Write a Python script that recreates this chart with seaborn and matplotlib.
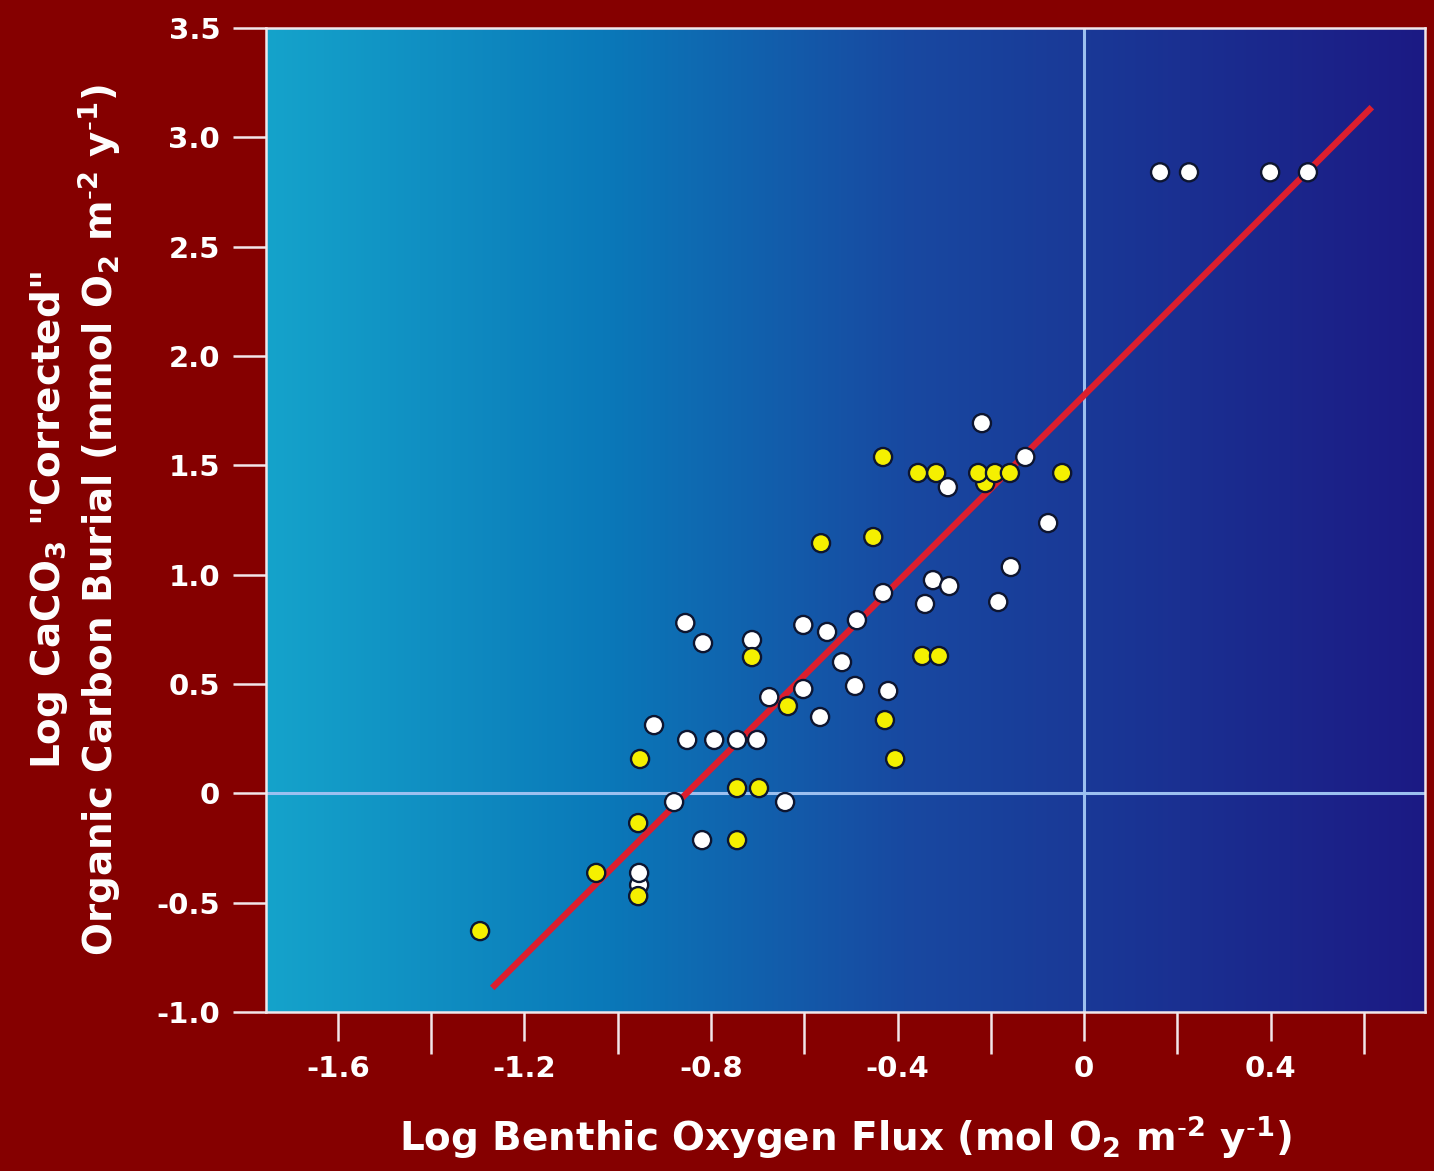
import numpy as np
import pandas as pd
import matplotlib
matplotlib.use("Agg")
import matplotlib.pyplot as plt
import seaborn as sns
from matplotlib.colors import LinearSegmentedColormap

# ---- data ----
white_x = [-0.954, 0.163, 0.225, 0.399, 0.480, -0.219, -0.126, -0.292, -0.077,
           -0.157, -0.324, -0.289, -0.341, -0.184, -0.431, -0.487, -0.602,
           -0.551, -0.855, -0.817, -0.712, -0.519, -0.675, -0.602, -0.491,
           -0.420, -0.566, -0.922, -0.851, -0.793, -0.744, -0.701, -0.879,
           -0.641, -0.819, -0.954]
white_y = [-0.419, 2.84, 2.84, 2.84, 2.84, 1.693, 1.538, 1.400, 1.236,
           1.035, 0.975, 0.948, 0.866, 0.875, 0.916, 0.792, 0.770,
           0.738, 0.779, 0.687, 0.701, 0.600, 0.440, 0.477, 0.491,
           0.468, 0.349, 0.312, 0.244, 0.244, 0.244, 0.244, -0.040,
           -0.040, -0.214, -0.364]

yellow_x = [-0.212, -0.431, -0.356, -0.317, -0.227, -0.191, -0.159, -0.047,
            -0.452, -0.564, -0.712, -0.347, -0.311, -0.635, -0.427, -0.405,
            -0.952, -0.744, -0.697, -0.956, -0.744, -1.046, -0.956, -1.295]
yellow_y = [1.419, 1.538, 1.465, 1.465, 1.465, 1.465, 1.465, 1.465,
            1.172, 1.144, 0.623, 0.628, 0.628, 0.399, 0.335, 0.157,
            0.157, 0.024, 0.024, -0.136, -0.214, -0.364, -0.470, -0.630]

fit_x = [-1.269, 0.617]
fit_y = [-0.890, 3.138]

x_major = [-1.6, -1.2, -0.8, -0.4, 0, 0.4]
x_major_labels = ["-1.6", "-1.2", "-0.8", "-0.4", "0", "0.4"]
x_minor = [-1.4, -1.0, -0.6, -0.2, 0.2, 0.6]
y_ticks = [-1.0, -0.5, 0, 0.5, 1.0, 1.5, 2.0, 2.5, 3.0, 3.5]
y_tick_labels = ["-1.0", "-0.5", "0", "0.5", "1.0", "1.5", "2.0", "2.5", "3.0", "3.5"]

df = pd.DataFrame({
    "x": white_x + yellow_x,
    "y": white_y + yellow_y,
    "group": ["white"] * len(white_x) + ["yellow"] * len(yellow_x),
})
line_df = pd.DataFrame({"x": fit_x, "y": fit_y})

# ---- style ----
sns.set_style("white")
plt.rcParams["font.family"] = ["DejaVu Sans"]
plt.rcParams["mathtext.default"] = "regular"

bg = "#850000"
fig = plt.figure(figsize=(14.34, 11.71), dpi=100, facecolor=bg)
ax = fig.add_axes([266 / 1434, 1 - 1012 / 1171, (1425 - 266) / 1434, (1012 - 28) / 1171])

xlim = (-1.754, 0.731)
ylim = (-1.0, 3.5)

# horizontal gradient background
cmap = LinearSegmentedColormap.from_list(
    "bg", [(0.0, "#15a3cb"), (0.29, "#0a79b9"), (0.55, "#1849a1"), (1.0, "#1c1a84")])
grad = np.linspace(0, 1, 512).reshape(1, -1)
ax.imshow(grad, cmap=cmap, aspect="auto", extent=[xlim[0], xlim[1], ylim[0], ylim[1]],
          zorder=0, interpolation="bicubic")

# zero lines
ax.axvline(0, color="#9cc0f0", lw=2.2, zorder=1)
ax.axhline(0, color="#9cc0f0", lw=2.2, zorder=1)

# regression line
sns.lineplot(data=line_df, x="x", y="y", ax=ax, color="#dc1f2e", lw=4.6,
             solid_capstyle="butt", zorder=2)

# points
sns.scatterplot(data=df, x="x", y="y", hue="group", ax=ax,
                palette={"white": "#ffffff", "yellow": "#f5f000"},
                s=170, edgecolor="#0d1530", linewidth=1.7, legend=False, zorder=3)

ax.set_xlim(*xlim)
ax.set_ylim(*ylim)

for s in ax.spines.values():
    s.set_color("#f2e6ea")
    s.set_linewidth(1.8)

tick_font = dict(fontsize=21, fontweight="bold", color="white")
ax.set_xticks(x_major)
ax.set_xticklabels(x_major_labels, **tick_font)
ax.set_xticks(x_minor, minor=True)
ax.set_yticks(y_ticks)
ax.set_yticklabels(y_tick_labels, **tick_font)
ax.tick_params(axis="x", which="major", bottom=True, direction="out", length=21,
               width=1.8, color="#f2e6ea", pad=10)
ax.tick_params(axis="x", which="minor", bottom=True, direction="out", length=30,
               width=1.8, color="#f2e6ea")
ax.tick_params(axis="y", which="major", left=True, direction="out", length=24,
               width=1.8, color="#f2e6ea", pad=9)

ax.set_xlabel(r"Log Benthic Oxygen Flux (mol O$_2$ m$^{\text{-}2}$ y$^{\text{-}1}$)",
              fontsize=28, fontweight="bold", color="white", labelpad=22)
ax.set_ylabel("Log CaCO$_3$ \"Corrected\"\n"
              r"Organic Carbon Burial (mmol O$_2$ m$^{\text{-}2}$ y$^{\text{-}1}$)",
              fontsize=28, fontweight="bold", color="white", labelpad=24,
              linespacing=1.15)

fig.savefig("out.png", dpi=100, facecolor=bg)
